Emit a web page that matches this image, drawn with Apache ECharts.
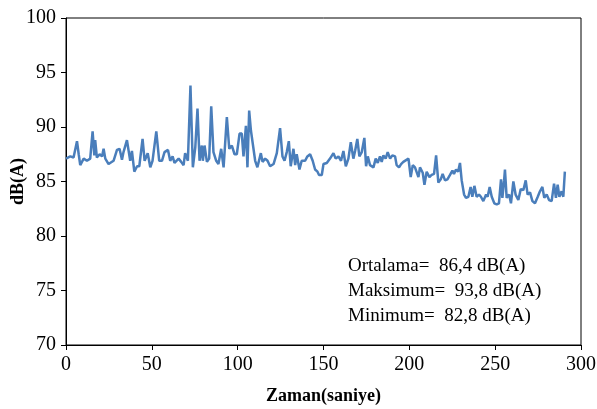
<!DOCTYPE html>
<html>
<head>
<meta charset="utf-8">
<script src="https://cdn.jsdelivr.net/npm/echarts@6/dist/echarts.min.js"></script>
<style>
html,body{margin:0;padding:0;background:#fff;}
#chart{width:597px;height:409px;}
</style>
</head>
<body>
<div id="chart"></div>
<script>
var times = [0,2.5,4.4,6.4,7.4,8.3,10.3,12.2,14.1,15.5,16.5,17,18,19.6,21,21.9,22.9,24.8,25.8,27.7,29.7,31.2,32.6,33.5,35.5,37.4,38.4,39.8,41.4,42.7,44.6,45.8,47.6,49.1,50.4,52.6,54.3,55.9,57.4,59.4,60.7,62.1,63.2,65.6,67.1,68.5,69.4,71,72.5,73.9,75.3,76.6,77.8,79.1,79.7,80.7,82.1,83.4,84.6,85.9,87.5,88.8,90.4,91.8,93.7,95.1,96.6,98.2,99.5,101.1,102.4,103.4,104.8,105.7,106.7,107.7,108.8,110.2,111.5,113.5,114.5,116,117.4,118.9,120.9,122.8,124.7,126.1,127.3,128.6,129.8,130.9,132.5,133.5,134.4,136,137.3,139.3,140.6,142.2,143.7,145.1,146.5,147.4,149,150,151.9,153.8,155.8,157.1,158.7,160.2,161.6,163,164.5,165.9,167.4,168.4,169.7,170.9,172.3,173.8,174.8,175.8,177.1,179.1,180.4,181.6,182.9,183.9,184.9,186.2,187.4,188.8,190.1,191.7,192.6,194,195.2,196.5,197.5,199.5,200.8,202,203.3,204.3,205.3,206.2,207.8,208.8,210.1,211.7,213,214.4,215.6,216.9,218.3,219.4,220.8,222.2,223.7,225.1,226,227.2,228.4,229.5,230.5,231.9,233,234.4,235.7,236.7,237.9,239.2,240.6,241.7,243.1,244.7,245.6,246.8,248,249.5,250.9,252.2,253.4,254.2,255.2,255.7,256.7,258.1,259.2,260.6,261.9,263.5,264.9,266.4,267.8,268.9,270.3,271.7,273.2,274.8,276.1,277.5,278.6,280,281.4,282.9,284.3,285.4,286.4,287.4,288.7,289.7,290.6];
var levels = [87.1,87.3,87.2,88.7,87.5,86.5,87.1,86.9,87.1,89.6,87.4,88.8,87.2,87.5,87.3,88.0,87.1,86.6,86.6,86.9,87.9,88.0,87.0,87.7,88.8,86.9,87.8,85.9,86.4,86.4,88.9,86.9,87.6,86.3,86.9,89.6,86.9,86.9,87.7,87.9,86.9,87.3,86.7,87.1,86.8,86.5,87.6,86.9,93.8,86.3,88.1,91.7,86.9,88.3,86.9,88.3,86.8,87.1,91.9,87.7,86.9,86.6,88.0,86.3,90.9,88.0,88.3,87.5,87.5,89.4,89.4,87.3,90.1,86.3,91.5,89.7,89.7,86.9,86.3,87.6,86.8,87.1,86.9,86.4,86.6,87.6,89.9,87.3,86.9,87.7,88.7,86.4,88.0,86.5,87.5,86.1,86.9,86.9,87.3,87.5,86.9,86.1,85.9,85.6,85.6,86.6,86.7,87.1,87.6,87.1,87.3,86.9,87.8,86.4,87.1,88.6,87.1,87.8,88.9,87.3,87.7,89.0,86.4,87.3,86.5,86.3,87.1,86.7,87.3,86.8,87.4,87.1,87.7,87.1,87.4,87.3,86.5,86.3,86.6,86.8,86.9,87.1,85.4,86.5,86.3,86.4,85.4,86.3,85.8,84.7,85.9,85.4,85.6,85.7,87.4,84.9,85.2,85.7,85.1,85.2,85.6,86.0,85.7,86.1,85.9,86.7,85.1,83.8,83.5,83.6,84.5,83.6,84.6,83.6,83.8,83.6,83.2,83.8,83.6,84.5,83.6,83.0,82.9,83.0,85.2,83.5,85.1,86.1,83.5,83.8,83.0,85.0,83.8,83.3,84.3,84.2,85.1,83.8,84.0,83.2,83.0,83.6,84.1,84.5,83.5,83.8,83.3,83.2,84.8,83.5,84.7,83.6,84.1,83.6,85.9];
var statLabels = ["Ortalama=", "Maksimum=", "Minimum="];
var statValues = ["86,4 dB(A)", "93,8 dB(A)", "82,8 dB(A)"];
var xTitle = "Zaman(saniye)";
var yTitle = "dB(A)";

var pairs = times.map(function(t, i){ return [t, levels[i]]; });
var FONT = '"Liberation Serif", "Times New Roman", serif';

var chart = echarts.init(document.getElementById('chart'), null, {renderer: 'canvas'});
chart.setOption({
  animation: false,
  backgroundColor: '#fff',
  grid: {left: 66, right: 16, top: 18, bottom: 64, outerBoundsMode: 'none', containLabel: false,
         show: true, borderColor: '#000', borderWidth: 1, backgroundColor: 'transparent'},
  xAxis: {
    type: 'value', min: 0, max: 300, interval: 50,
    name: xTitle, nameLocation: 'middle', nameGap: 42, nameMoveOverlap: false,
    nameTextStyle: {fontFamily: FONT, fontWeight: 'bold', fontSize: 18, color: '#000'},
    axisLine: {show: true, lineStyle: {color: '#000', width: 1}},
    axisTick: {show: true, inside: false, length: 5, lineStyle: {color: '#000'}},
    axisLabel: {fontFamily: FONT, fontSize: 20, color: '#000', margin: 10},
    splitLine: {show: false}
  },
  yAxis: {
    type: 'value', min: 70, max: 100, interval: 5,
    name: yTitle, nameLocation: 'middle', nameGap: 39, nameRotate: 90, nameMoveOverlap: false,
    nameTextStyle: {fontFamily: FONT, fontWeight: 'bold', fontSize: 18, color: '#000'},
    axisLine: {show: true, lineStyle: {color: '#000', width: 1}},
    axisTick: {show: true, inside: false, length: 5, lineStyle: {color: '#000'}},
    axisLabel: {fontFamily: FONT, fontSize: 20, color: '#000', margin: 10},
    splitLine: {show: false}
  },
  graphic: statLabels.map(function(lbl, i){
    return {
      type: 'text', left: 348, top: 257 + i * 25,
      style: {text: lbl + '  ' + statValues[i], font: '19px ' + FONT, fill: '#000'}
    };
  }),
  series: [{
    type: 'line', data: pairs, showSymbol: false, smooth: false,
    lineStyle: {color: '#4A7EBB', width: 2.5},
    itemStyle: {color: '#4A7EBB'}
  }]
});
</script>
</body>
</html>
